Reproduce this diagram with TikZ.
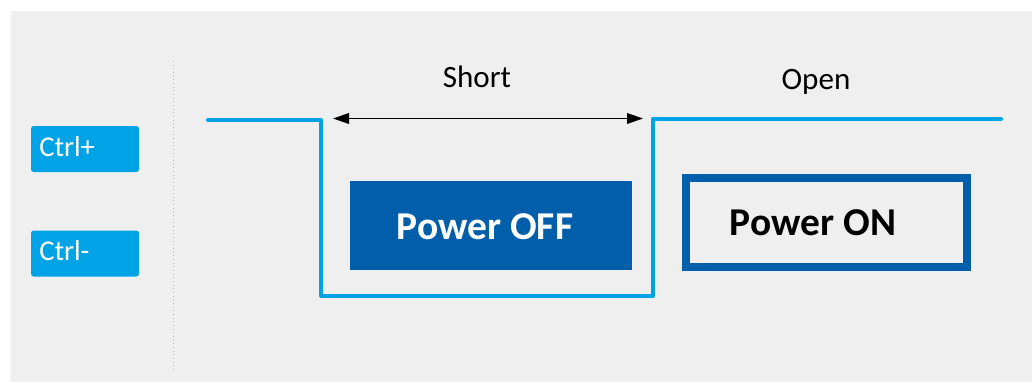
\documentclass[tikz,border=0pt]{standalone}
\usepackage{fontspec}
\setmainfont{Carlito}
\usetikzlibrary{arrows.meta}
\definecolor{bg}{HTML}{EFEFEF}
\definecolor{sig}{HTML}{00A3E6}
\definecolor{dblue}{HTML}{005EAA}
\definecolor{dotgray}{HTML}{B4B4B4}
\tikzset{
  ctrlbox/.style={fill=sig, draw=none, rounded corners=2pt, minimum width=81pt, minimum height=34.5pt, inner sep=0pt},
  ctrltext/.style={text=white, font=\fontsize{21.5}{24}\selectfont, anchor=base west, inner sep=0pt},
  signal/.style={draw=sig, line width=3pt, line cap=round, line join=round},
  lbl/.style={font=\fontsize{23.3}{26}\selectfont, anchor=base, inner sep=0pt},
  pwrtext/.style={font=\bfseries\fontsize{29.6}{33}\selectfont, anchor=base, inner sep=0pt},
}
\begin{document}
\begin{tikzpicture}[x=0.75pt,y=-0.75pt]
\useasboundingbox (0,0) rectangle (1032,382);
\fill[white] (0,0) rectangle (1032,382);
\fill[bg] (11,11) rectangle (1032,382);
% divider
\draw[dotgray, line width=0.75pt, dotted] (173,61) -- (173,372);
% control boxes
\node[ctrlbox] (ctrlp) at (85,149) {};
\node[ctrlbox] (ctrlm) at (85,253.5) {};
\node[ctrltext] (ctrlpt) at (39,156) {Ctrl+};
\node[ctrltext] (ctrlmt) at (39,260) {Ctrl-};
% signal
\coordinate (s0) at (208,120);
\coordinate (s1) at (321,120);
\coordinate (s2) at (321,296);
\coordinate (s3) at (653,296);
\coordinate (s4) at (653,119);
\coordinate (s5) at (1001,119);
\draw[signal] (s0) -- (s1) -- (s2) -- (s3) -- (s4) -- (s5);
% arrow
\coordinate (a0) at (333,118.5);
\coordinate (a1) at (643,118.5);
\draw[black, line width=1.2pt, {Triangle[length=12pt,width=8pt]}-{Triangle[length=12pt,width=8pt]}] (a0) -- (a1);
\node[lbl] (short) at (477,87) {Short};
\node[lbl] (open) at (816,89) {Open};
% power boxes
\node[fill=dblue, draw=none, minimum width=211.5pt, minimum height=66.75pt, inner sep=0pt] (off) at (491,225.5) {};
\node[pwrtext, text=white] (offt) at (485,239) {Power OFF};
\node[draw=dblue, line width=6pt, minimum width=210.75pt, minimum height=66.3pt, inner sep=0pt] (on) at (826.3,222.5) {};
\node[pwrtext, text=black] (ont) at (813,235) {Power ON};
\end{tikzpicture}
\end{document}
